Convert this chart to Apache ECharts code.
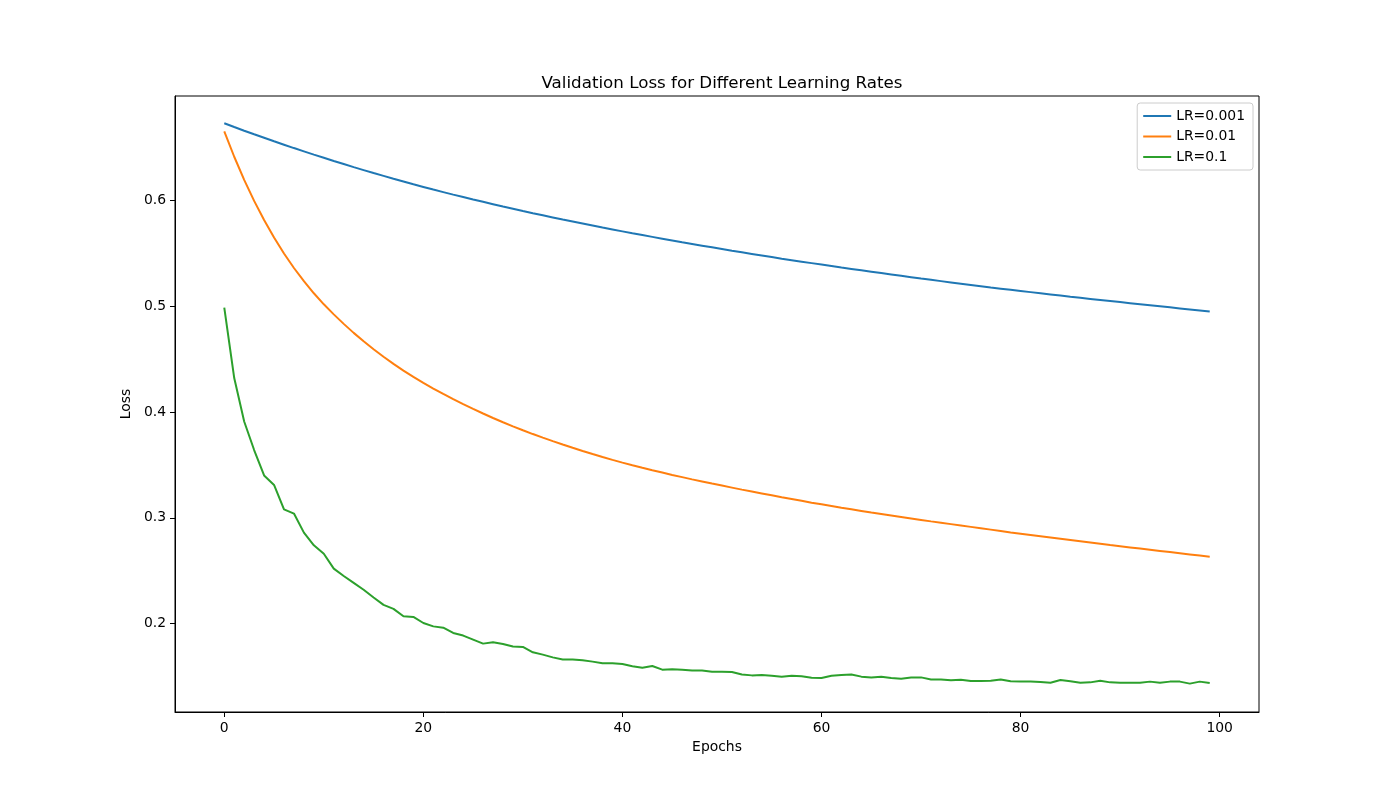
<!DOCTYPE html>
<html>
<head>
<meta charset="utf-8">
<script src="https://cdn.jsdelivr.net/npm/echarts@6/dist/echarts.min.js"></script>
<style>
html,body{margin:0;padding:0;background:#fff;}
#chart{width:1400px;height:800px;}
</style>
</head>
<body>
<div id="chart"></div>
<script>
const epochs = Array.from({length: 100}, (_, i) => i);

const lossLR0001 = [
0.6728,0.6692,0.6657,0.6623,0.6590,0.6557,0.6525,0.6493,0.6462,0.6431,
0.6401,0.6371,0.6342,0.6313,0.6285,0.6257,0.6230,0.6203,0.6177,0.6151,
0.6126,0.6101,0.6077,0.6053,0.6030,0.6007,0.5985,0.5963,0.5941,0.5920,
0.5899,0.5878,0.5858,0.5838,0.5818,0.5799,0.5780,0.5761,0.5742,0.5724,
0.5706,0.5688,0.5671,0.5654,0.5637,0.5620,0.5603,0.5587,0.5571,0.5555,
0.5539,0.5523,0.5508,0.5493,0.5478,0.5463,0.5448,0.5434,0.5420,0.5406,
0.5392,0.5378,0.5364,0.5351,0.5338,0.5325,0.5312,0.5299,0.5286,0.5273,
0.5260,0.5248,0.5236,0.5224,0.5212,0.5200,0.5188,0.5176,0.5165,0.5154,
0.5143,0.5132,0.5121,0.5110,0.5099,0.5088,0.5078,0.5068,0.5058,0.5048,
0.5038,0.5028,0.5018,0.5008,0.4998,0.4988,0.4978,0.4968,0.4958,0.4948
];

const lossLR001 = [
0.6650,0.6411,0.6193,0.5994,0.5813,0.5648,0.5497,0.5360,0.5235,0.5121,
0.5017,0.4922,0.4832,0.4747,0.4667,0.4592,0.4521,0.4454,0.4391,0.4331,
0.4275,0.4221,0.4170,0.4121,0.4074,0.4029,0.3985,0.3943,0.3903,0.3864,
0.3827,0.3791,0.3757,0.3724,0.3692,0.3661,0.3631,0.3602,0.3574,0.3547,
0.3521,0.3496,0.3472,0.3449,0.3427,0.3405,0.3384,0.3363,0.3343,0.3323,
0.3304,0.3285,0.3266,0.3248,0.3230,0.3212,0.3194,0.3177,0.3160,0.3143,
0.3127,0.3111,0.3095,0.3080,0.3065,0.3050,0.3036,0.3022,0.3008,0.2994,
0.2980,0.2966,0.2953,0.2940,0.2927,0.2914,0.2901,0.2888,0.2875,0.2862,
0.2850,0.2838,0.2826,0.2814,0.2802,0.2790,0.2778,0.2766,0.2754,0.2742,
0.2731,0.2720,0.2709,0.2698,0.2687,0.2676,0.2665,0.2654,0.2643,0.2632
];

const lossLR01 = [
0.4985,0.4320,0.3910,0.3640,0.3400,0.3310,0.3080,0.3040,0.2860,0.2740,
0.2660,0.2520,0.2450,0.2385,0.2320,0.2247,0.2177,0.2139,0.2069,0.2063,
0.2006,0.1974,0.1962,0.1912,0.1887,0.1849,0.1811,0.1823,0.1808,0.1783,
0.1780,0.1729,0.1707,0.1681,0.1662,0.1660,0.1653,0.1641,0.1625,0.1625,
0.1618,0.1598,0.1584,0.1600,0.1565,0.1568,0.1565,0.1556,0.1556,0.1546,
0.1546,0.1543,0.1520,0.1511,0.1514,0.1508,0.1499,0.1508,0.1502,0.1489,
0.1487,0.1508,0.1515,0.1520,0.1499,0.1492,0.1499,0.1487,0.1480,0.1490,
0.1492,0.1473,0.1473,0.1464,0.1470,0.1458,0.1458,0.1461,0.1473,0.1455,
0.1453,0.1453,0.1449,0.1442,0.1467,0.1455,0.1442,0.1445,0.1461,0.1445,
0.1442,0.1442,0.1442,0.1452,0.1442,0.1452,0.1452,0.1433,0.1452,0.1439
];

const seriesNames = ['LR=0.001', 'LR=0.01', 'LR=0.1'];
const seriesColors = ['#1f77b4', '#ff7f0e', '#2ca02c'];
const xTicks = [0, 20, 40, 60, 80, 100];
const yTicks = [0.2, 0.3, 0.4, 0.5, 0.6];

const font = 'DejaVu Sans';
const allData = [lossLR0001, lossLR001, lossLR01];

const chart = echarts.init(document.getElementById('chart'), null, {renderer: 'canvas'});
chart.setOption({
  backgroundColor: '#fff',
  animation: false,
  title: {
    text: 'Validation Loss for Different Learning Rates',
    left: 717, top: 70, textAlign: 'center',
    textStyle: {fontFamily: font, fontSize: 16.7, fontWeight: 'normal', color: '#000'}
  },
  legend: {
    orient: 'vertical', right: 147, top: 103,
    itemWidth: 28, itemHeight: 14, itemGap: 6.5,
    padding: [6, 8, 6, 6],
    borderColor: '#cccccc', borderWidth: 1, borderRadius: 3,
    backgroundColor: 'rgba(255,255,255,0.8)',
    textStyle: {fontFamily: font, fontSize: 13.9, color: '#000'},
    data: seriesNames.map(n => ({name: n, icon: 'path://M0,0 L28,0 L28,2 L0,2 Z'}))
  },
  grid: {left: 175, top: 96, width: 1084, height: 616, show: true, borderColor: '#000', borderWidth: 1, backgroundColor: 'transparent'},
  xAxis: {
    type: 'value', min: -4.95, max: 103.95,
    name: 'Epochs', nameLocation: 'middle', nameGap: 28,
    nameTextStyle: {fontFamily: font, fontSize: 13.9, color: '#000'},
    axisLine: {show: true, onZero: false, lineStyle: {color: '#000', width: 1}},
    axisTick: {show: true, customValues: xTicks, length: 5, lineStyle: {color: '#000'}},
    axisLabel: {customValues: xTicks, fontFamily: font, fontSize: 13.9, color: '#000', margin: 9},
    splitLine: {show: false}
  },
  yAxis: {
    type: 'value', min: 0.1165, max: 0.6985,
    name: 'Loss', nameLocation: 'middle', nameGap: 28, nameRotate: 90,
    nameTextStyle: {fontFamily: font, fontSize: 13.9, color: '#000'},
    axisLine: {show: true, onZero: false, lineStyle: {color: '#000', width: 1}},
    axisTick: {show: true, customValues: yTicks, length: 5, lineStyle: {color: '#000'}},
    axisLabel: {customValues: yTicks, fontFamily: font, fontSize: 13.9, color: '#000', margin: 9,
      formatter: v => (Math.round(v * 10) / 10).toFixed(1)},
    splitLine: {show: false}
  },
  series: seriesNames.map((n, k) => ({
    name: n, type: 'line', showSymbol: false, symbol: 'none',
    data: epochs.map((e, i) => [e, allData[k][i]]),
    lineStyle: {color: seriesColors[k], width: 2},
    itemStyle: {color: seriesColors[k]},
    z: 2 + k
  }))
});
</script>
</body>
</html>
